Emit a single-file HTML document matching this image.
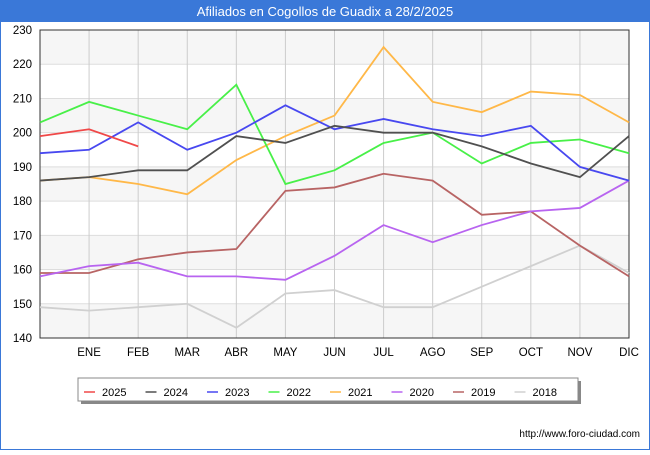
<!DOCTYPE html>
<html><head><meta charset="utf-8"><style>
body{margin:0;background:#fff;font-family:"Liberation Sans",sans-serif}
</style></head><body>
<svg width="650" height="450" xmlns="http://www.w3.org/2000/svg">
<rect x="0" y="0" width="650" height="450" fill="#fff"/>
<rect x="0.5" y="0.5" width="649" height="449" fill="none" stroke="#3a78d8"/>
<rect x="0" y="0" width="650" height="22" fill="#3a78d8"/>
<text x="325" y="16" font-size="13" fill="#fff" text-anchor="middle">Afiliados en Cogollos de Guadix a 28/2/2025</text>
<g id="plot"></g>
<g id="legend"></g>
<text x="640" y="437" font-size="10" fill="#000" text-anchor="end">http://www.foro-ciudad.com</text>
</svg>
<script>
const months=["","ENE","FEB","MAR","ABR","MAY","JUN","JUL","AGO","SEP","OCT","NOV","DIC"];
const yTicks=[140,150,160,170,180,190,200,210,220,230];
const seriesNames=["2025","2024","2023","2022","2021","2020","2019","2018"];
const seriesColors=["#f04848","#505050","#4848f0","#48f048","#ffb848","#b864f0","#b86464","#d0d0d0"];
const s2025=[199,201,196];
const s2024=[186,187,189,189,199,197,202,200,200,196,191,187,199];
const s2023=[194,195,203,195,200,208,201,204,201,199,202,190,186];
const s2022=[203,209,205,201,214,185,189,197,200,191,197,198,194];
const s2021=[186,187,185,182,192,199,205,225,209,206,212,211,203];
const s2020=[158,161,162,158,158,157,164,173,168,173,177,178,186];
const s2019=[159,159,163,165,166,183,184,188,186,176,177,167,158];
const s2018=[149,148,149,150,143,153,154,149,149,155,161,167,159];
const allSeries=[s2025,s2024,s2023,s2022,s2021,s2020,s2019,s2018];
const NS="http://www.w3.org/2000/svg";
const X0=40,X1=629,Y0=338,Y1=30,ymin=140,ymax=230;
const xs=i=>X0+(X1-X0)*i/12;
const ys=v=>Y0-(v-ymin)*(Y0-Y1)/(ymax-ymin);
const plot=document.getElementById('plot');
function mk(t,a,p){const e=document.createElementNS(NS,t);for(const k in a)e.setAttribute(k,a[k]);(p||plot).appendChild(e);return e;}
for(let i=0;i<yTicks.length-1;i++){
 if(i%2==0){const r=mk('rect',{x:X0,y:ys(yTicks[i+1]),width:X1-X0,height:ys(yTicks[i])-ys(yTicks[i+1]),fill:'#f6f6f6'});
 
 }
}
yTicks.forEach(v=>{
 const l=mk('line',{x1:X0,x2:X1,y1:ys(v),y2:ys(v),stroke:'#dddddd'});
 
 
 const t=mk('text',{x:X0-8,y:ys(v)+4,'font-size':11.5,'text-anchor':'end',fill:'#000'});
 t.textContent=v;
 
 
});
months.forEach((m,i)=>{
 const l=mk('line',{x1:xs(i),x2:xs(i),y1:Y1,y2:Y0,stroke:'#cccccc'});
 
 
 if(m){const t=mk('text',{x:xs(i),y:Y0+18,'font-size':11.5,'text-anchor':'middle',fill:'#000'});
 t.textContent=m;
 
 }
});
const ax=mk('rect',{x:X0,y:Y1,width:X1-X0,height:Y0-Y1,fill:'none',stroke:'#333'});


for(let s=allSeries.length-1;s>=0;s--){
 const pts=allSeries[s].map((v,i)=>xs(i)+','+ys(v)).join(' ');
 const p=mk('polyline',{points:pts,fill:'none',stroke:seriesColors[s],'stroke-width':1.8});
 
 
}
const lg=document.getElementById('legend');
const sh=mk('rect',{x:81,y:381,width:500,height:23,fill:'#888'},lg);


const lb=mk('rect',{x:78,y:378,width:500,height:23,fill:'#fff',stroke:'#888'},lg);


seriesNames.forEach((n,i)=>{
 const x=84+i*61.5;
 const l=mk('line',{x1:x,x2:x+11,y1:392,y2:392,stroke:seriesColors[i],'stroke-width':1.5},lg);
 
 
 const t=mk('text',{x:x+18,y:396,'font-size':11,fill:'#000'},lg);
 t.textContent=n;
 
 
});
</script>
</body></html>
